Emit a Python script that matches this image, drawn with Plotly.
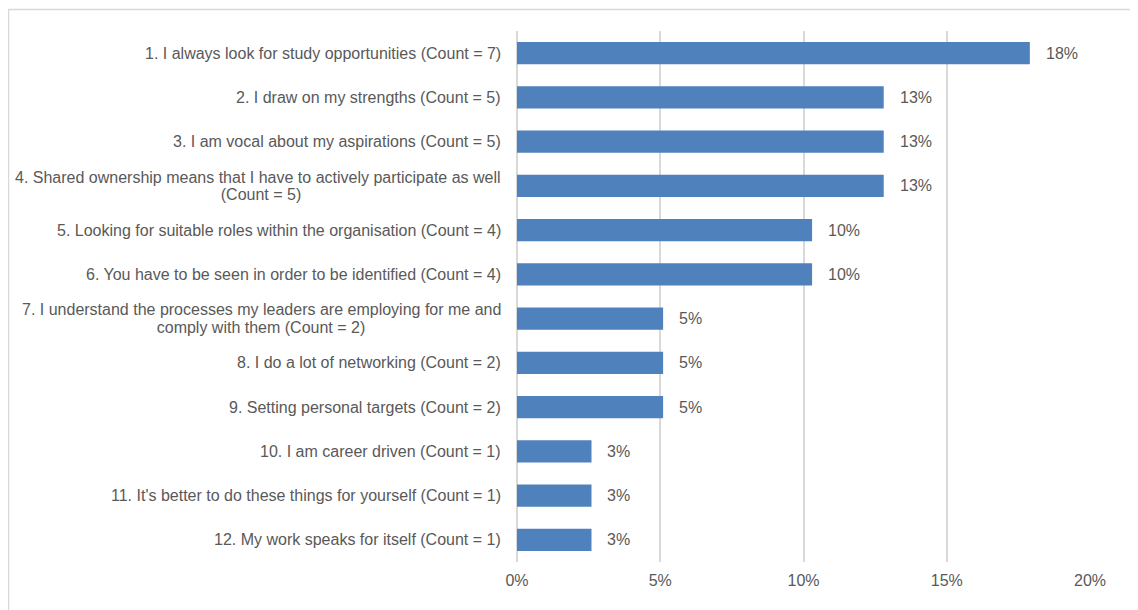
import plotly.graph_objects as go

categories = [
    "1. I always look for study opportunities (Count = 7)",
    "2. I draw on my strengths (Count = 5)",
    "3. I am vocal about my aspirations (Count = 5)",
    "4. Shared ownership means that I have to actively participate as well<br>(Count = 5)",
    "5. Looking for suitable roles within the organisation (Count = 4)",
    "6. You have to be seen in order to be identified (Count = 4)",
    "7. I understand the processes my leaders are employing for me and<br>comply with them (Count = 2)",
    "8. I do a lot of networking (Count = 2)",
    "9. Setting personal targets (Count = 2)",
    "10. I am career driven (Count = 1)",
    "11. It's better to do these things for yourself (Count = 1)",
    "12. My work speaks for itself (Count = 1)",
]
values = [17.9, 12.8, 12.8, 12.8, 10.3, 10.3, 5.1, 5.1, 5.1, 2.6, 2.6, 2.6]
value_labels = ["18%", "13%", "13%", "13%", "10%", "10%", "5%", "5%", "5%", "3%", "3%", "3%"]
tick_vals = [0, 5, 10, 15, 20]
tick_text = ["0%", "5%", "10%", "15%", "20%"]

ids = list(range(len(categories)))
FONT = "Liberation Sans, Arial, sans-serif"
GRAY = "#595959"
FS = 16

# page body has an 8px margin; figure is sized to fit 1138x610 window
W, H = 1130, 602
ML, MR, MT, MB = 509, 48, 23, 48
PW = W - ML - MR
PH = H - MT - MB

fig = go.Figure()
fig.add_trace(go.Bar(
    x=values, y=ids, orientation="h",
    marker=dict(color="#4f81bd", line=dict(width=0)),
    hoverinfo="skip",
))

annotations = []
for i, (cat, v, lab) in enumerate(zip(categories, values, value_labels)):
    lines = cat.split("<br>")
    if len(lines) == 1:
        annotations.append(dict(
            x=0, xref="paper", y=i, yref="y", text=cat, showarrow=False,
            xanchor="right", yanchor="middle", xshift=-14,
            font=dict(family=FONT, size=FS, color=GRAY),
        ))
    else:
        annotations.append(dict(
            x=0, xref="paper", y=i, yref="y", text=lines[0], showarrow=False,
            xanchor="right", yanchor="middle", xshift=-14, yshift=8.7,
            font=dict(family=FONT, size=FS, color=GRAY),
        ))
        annotations.append(dict(
            x=0, xref="paper", y=i, yref="y", text=lines[1], showarrow=False,
            xanchor="right", yanchor="middle", xshift=-14, yshift=-8.7,
            width=480, align="center",
            font=dict(family=FONT, size=FS, color=GRAY),
        ))
    annotations.append(dict(
        x=v, xref="x", y=i, yref="y", text=lab, showarrow=False,
        xanchor="left", yanchor="middle", xshift=14,
        font=dict(family=FONT, size=FS, color=GRAY),
    ))

fig.update_layout(
    width=W, height=H,
    margin=dict(l=ML, r=MR, t=MT, b=MB),
    paper_bgcolor="white", plot_bgcolor="white",
    bargap=0.5,
    showlegend=False,
    annotations=annotations,
    xaxis=dict(
        range=[0, 20], tickvals=tick_vals, ticktext=tick_text,
        showgrid=True, gridcolor="#d9d9d9", gridwidth=1.5,
        zeroline=True, zerolinecolor="#d9d9d9", zerolinewidth=1.5,
        showline=False, ticks="", ticklabelstandoff=7,
        tickfont=dict(family=FONT, size=FS, color=GRAY),
        fixedrange=True,
    ),
    yaxis=dict(
        range=[len(categories) - 0.5, -0.5],
        showticklabels=False, showgrid=False, zeroline=False, ticks="",
        fixedrange=True,
    ),
    shapes=[dict(
        type="rect", xref="paper", yref="paper",
        x0=(0.5 - ML) / PW, x1=1.2, y0=-0.2, y1=1 + (MT - 1.5) / PH,
        line=dict(color="#d9d9d9", width=1.5), layer="below",
    )],
)

fig.write_html("out.html")
